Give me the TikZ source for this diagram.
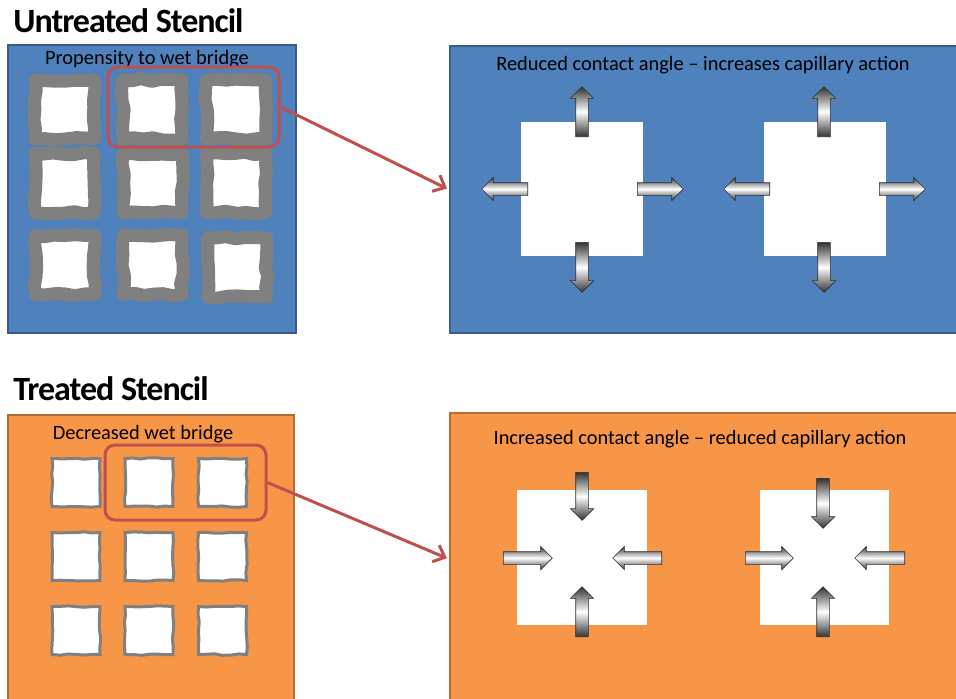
\documentclass[tikz,border=0pt]{standalone}
\usepackage{fontspec}
\setmainfont{Carlito}
\usetikzlibrary{positioning,arrows.meta,shapes.arrows,decorations.pathmorphing}
\definecolor{ublue}{HTML}{4F81BD}
\definecolor{ubluedk}{HTML}{385D8A}
\definecolor{torange}{HTML}{F79646}
\definecolor{torangedk}{HTML}{B66D31}
\definecolor{redsel}{HTML}{C0504D}
\tikzstyle{ubox}=[rectangle, draw=ubluedk, fill=ublue, line width=1.2pt, inner sep=0pt]
\tikzstyle{tbox}=[rectangle, draw=torangedk, fill=torange, line width=1.2pt, inner sep=0pt]
\tikzstyle{wpad}=[rectangle, fill=white, draw=gray, line width=6.5pt, minimum size=29.5pt
, line join=round, decorate, decoration={random steps, segment length=5pt, amplitude=0.7pt}]
\tikzstyle{tpad}=[rectangle, fill=white, draw=gray, line width=1.5pt, minimum size=24pt
, decorate, decoration={random steps, segment length=4pt, amplitude=0.4pt}]
\tikzstyle{hole}=[rectangle, fill=white, inner sep=0pt]
\tikzstyle{rsel}=[rectangle, draw=redsel, rounded corners=5pt, line width=1.5pt, inner sep=0pt]
\tikzstyle{flow}=[single arrow, anchor=tail, minimum width=11.5pt, single arrow head extend=2.7pt
, inner sep=0pt, inner ysep=3pt, top color=gray!40!black, bottom color=gray!40!black
, middle color=white, draw=gray!35!black, line width=0.3pt]
\tikzstyle{stitle}=[font=\fontsize{17}{19}\selectfont\bfseries\addfontfeature{LetterSpace=-3}
, anchor=base west, inner sep=0pt]
\tikzstyle{capt}=[font=\fontsize{10.2}{12}\selectfont, inner sep=0pt]
\tikzstyle{rline}=[-{Straight Barb[length=5pt,width=9pt]}, line width=1.5pt, redsel, line cap=round, shorten >=1pt]
\begin{document}
\begin{tikzpicture}[x=0.5pt, y=-0.5pt]
    \useasboundingbox (0,0) rectangle (956,698);
    \clip (0,0) rectangle (956,698);
    \pgfmathsetseed{7}

% Untreated

    \node (utit) [stitle] at (13,32) {Untreated Stencil};
    \node (ul) [ubox, minimum width=144pt, minimum height=144pt] at (152,189) {};
    \node (ulcap) [capt, below=3pt of ul.north, xshift=-2.5pt] {Propensity to wet bridge};

    \node (w1) [wpad] at (64.5,109.5) {};
    \node (w2) [wpad] at (152.5,109.5) {};
    \node (w3) [wpad] at (236,109.5) {};
    \node (w4) [wpad] at (64.5,183) {};
    \node (w5) [wpad] at (152.5,183) {};
    \node (w6) [wpad] at (236,183) {};
    \node (w7) [wpad] at (65,265) {};
    \node (w8) [wpad] at (152.5,265) {};
    \node (w9) [wpad] at (237,267.5) {};

    \node (sel1) [rsel, minimum width=85.5pt, minimum height=40pt] at (193.5,107) {};

    \node (ur) [ubox, minimum width=255pt, minimum height=143.5pt] at (705,189.5) {};
    \node (urcap) [capt, below=5.5pt of ur.north, xshift=-1pt]
	{Reduced contact angle -- increases capillary action};

    \node (uh1) [hole, minimum width=61pt, minimum height=67pt] at (582,189) {};
    \node (uh2) [hole, minimum width=61pt, minimum height=67pt] at (824.5,189) {};

    \node (ua1) [flow, minimum height=25pt, rotate=90] at (582,137) {};
    \node (ua2) [flow, minimum height=25pt, rotate=-90] at (582,242) {};
    \node (ua3) [flow, minimum height=23pt, rotate=180] at (528,189) {};
    \node (ua4) [flow, minimum height=23pt] at (637,189) {};
    \node (ua5) [flow, minimum height=25pt, rotate=90] at (824,137) {};
    \node (ua6) [flow, minimum height=25pt, rotate=-90] at (824,242) {};
    \node (ua7) [flow, minimum height=23pt, rotate=180] at (770,189) {};
    \node (ua8) [flow, minimum height=23pt] at (879,189) {};

% Treated

    \node (ttit) [stitle] at (13,400) {Treated Stencil};
    \node (bl) [tbox, minimum width=143pt, minimum height=145pt] at (151,560) {};
    \node (blcap) [capt, below=5.5pt of bl.north, xshift=-4pt] {Decreased wet bridge};

    \node (t1) [tpad] at (76,482.5) {};
    \node (t2) [tpad] at (149,482.5) {};
    \node (t3) [tpad] at (222.5,482.5) {};
    \node (t4) [tpad] at (76,556.5) {};
    \node (t5) [tpad] at (149,556.5) {};
    \node (t6) [tpad] at (222.5,556.5) {};
    \node (t7) [tpad] at (76,630.5) {};
    \node (t8) [tpad] at (149,630.5) {};
    \node (t9) [tpad] at (222.5,630.5) {};

    \node (sel2) [rsel, minimum width=80.5pt, minimum height=37.5pt] at (185.5,482.5) {};

    \node (br) [tbox, minimum width=255pt, minimum height=146pt] at (705,559) {};
    \node (brcap) [capt, below=9pt of br.north, xshift=-2.5pt]
	{Increased contact angle -- reduced capillary action};

    \node (th1) [hole, minimum width=65pt, minimum height=67.5pt] at (582,557.5) {};
    \node (th2) [hole, minimum width=64.5pt, minimum height=67.5pt] at (824.5,557.5) {};

    \node (ta1) [flow, minimum height=24pt, rotate=-90] at (582,472) {};
    \node (ta2) [flow, minimum height=25pt, rotate=90] at (582,637) {};
    \node (ta3) [flow, minimum height=24.5pt] at (503,558) {};
    \node (ta4) [flow, minimum height=24.5pt, rotate=180] at (662,558) {};
    \node (ta5) [flow, minimum height=25pt, rotate=-90] at (823,478) {};
    \node (ta6) [flow, minimum height=25pt, rotate=90] at (823,637) {};
    \node (ta7) [flow, minimum height=24pt] at (745,558) {};
    \node (ta8) [flow, minimum height=25pt, rotate=180] at (905,558) {};

% lines
    \draw[rline] (sel1.east) -- (ur.west);
    \draw[rline] (sel2.east) -- (br.west);
\end{tikzpicture}
\end{document}
